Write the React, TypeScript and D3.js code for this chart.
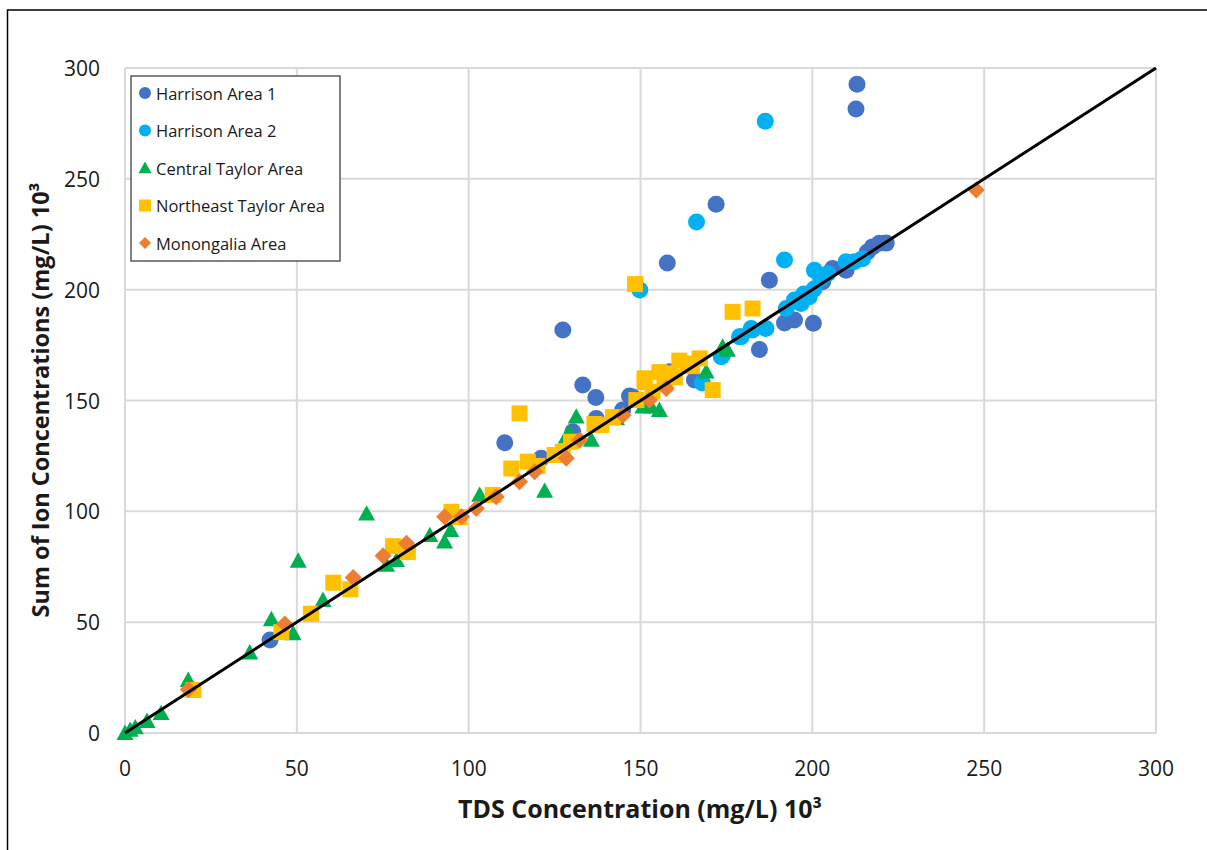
import React from "react";
import * as d3 from "d3";

const xTicks = [0, 50, 100, 150, 200, 250, 300];
const yTicks = [0, 50, 100, 150, 200, 250, 300];

const seriesNames = [
  "Harrison Area 1",
  "Harrison Area 2",
  "Central Taylor Area",
  "Northeast Taylor Area",
  "Monongalia Area",
];
const seriesColors = ["#4472C4", "#00B0F0", "#00B050", "#FFC000", "#ED7D31"];
const seriesShapes = ["circle", "circle", "triangle", "square", "diamond"];

const harrison1: [number, number][] = [
  [42.2, 42], [110.5, 130.9], [121.1, 123.9], [127.4, 181.8], [130.3, 135.9],
  [133.2, 157], [137, 151.4], [137.1, 141.9], [144.8, 145.7], [146.8, 152],
  [147.7, 151.6], [158.4, 163], [157.8, 212], [165.7, 159.2], [172, 238.5],
  [184.6, 173], [187.5, 204.3], [191.9, 185], [194.8, 186.3], [200.3, 184.8],
  [203, 203.6], [205.9, 209.6], [209.8, 208.8], [213, 292.7], [212.7, 281.5],
  [216, 217], [217.5, 219.3], [219.5, 220.9], [221.5, 221],
];
const harrison2: [number, number][] = [
  [149.8, 199.8], [166.3, 230.5], [186.3, 276], [191.9, 213.4], [168, 157.9],
  [173.5, 169.7], [173.9, 170.5], [178.8, 178.8], [179.3, 178.8], [182.2, 182.5],
  [182.6, 181.8], [186.5, 182.5], [192.4, 191.5], [194.8, 195.3], [196.7, 193.8],
  [199.1, 196.8], [200.6, 208.8], [202.5, 205], [204.5, 207.3], [209.8, 212.6],
  [212.2, 212.6], [214.6, 214], [200.5, 200.3], [197.5, 198],
];
const centralTaylor: [number, number][] = [
  [0, 0], [1.5, 1.4], [3, 2.5], [6.4, 5.4], [10.5, 9], [18.4, 23.9], [36.3, 36.3],
  [42.6, 51.3], [48.9, 45], [50.4, 77.7], [57.6, 60], [70.3, 99], [76.1, 75.8],
  [79, 78], [88.7, 89.3], [93, 86.3], [94.8, 91.5], [103.2, 107.4], [122.1, 109.2],
  [128.4, 133.7], [129.4, 135.3], [131.3, 142.7], [135.7, 132.2], [143, 141.9],
  [150.7, 147.2], [153.1, 147.2], [155.5, 145.7], [169.1, 163], [173.9, 174.3],
  [175.3, 172.8],
];
const northeastTaylor: [number, number][] = [
  [19.9, 19.4], [45.5, 45.5], [54.1, 53.8], [60.6, 67.8], [65.6, 64.8], [78, 84.3],
  [82.3, 81.6], [95, 99.8], [97.4, 97.4], [107, 107.4], [112.4, 119.3], [114.8, 144.2],
  [117.2, 122.4], [125, 125.4], [127.4, 126.9], [129.8, 131.4], [136.6, 139.4],
  [138.6, 138.9], [148.4, 202.5], [148.8, 150.2], [151.2, 160], [151.2, 158.3],
  [155.5, 162.8], [158.4, 162.2], [161.3, 168], [163.8, 166.7], [167.2, 169],
  [171, 154.7], [176.8, 190], [182.6, 191.5], [153.5, 154], [157, 157.5],
  [160, 160.5], [165, 165.5], [142, 142.5], [120, 120.5],
];
const monongalia: [number, number][] = [
  [18.4, 19.6], [46.5, 49.2], [66.4, 70.2], [75.1, 80], [81.9, 85.6], [93, 97.6],
  [97.9, 97.6], [102.2, 101.3], [108, 106.6], [114.8, 113.4], [119.2, 117.9],
  [128.4, 123.9], [132.3, 132.2], [144.9, 143.4], [152.6, 150.2], [157.5, 155.4],
  [247.7, 245],
];
const allSeries = [harrison1, harrison2, centralTaylor, northeastTaylor, monongalia];
const refLine: [number, number][] = [[0, 0], [300, 300]];

const W = 1207;
const H = 850;
const left = 125;
const right = 1156;
const top = 68;
const bottom = 733;
const FONT = "'Open Sans', 'Noto Sans', sans-serif";

function shapePath(shape: string, s: number): string {
  if (shape === "circle") {
    return `M${-s},0A${s},${s} 0 1,0 ${s},0A${s},${s} 0 1,0 ${-s},0Z`;
  }
  if (shape === "square") {
    return `M${-s},${-s}H${s}V${s}H${-s}Z`;
  }
  if (shape === "triangle") {
    const h = s * 1.8;
    return `M0,${-h * 0.55}L${s},${h * 0.45}L${-s},${h * 0.45}Z`;
  }
  return `M0,${-s}L${s},0L0,${s}L${-s},0Z`;
}
const markerSize: Record<string, number> = { circle: 8.5, square: 8, triangle: 8.5, diamond: 8.5 };
const legendSize: Record<string, number> = { circle: 6, square: 6, triangle: 6.5, diamond: 6 };

export default function App() {
  const x = d3.scaleLinear().domain([0, 300]).range([left, right]);
  const y = d3.scaleLinear().domain([0, 300]).range([bottom, top]);
  const line = d3.line<[number, number]>().x((d) => x(d[0])).y((d) => y(d[1]));

  return (
    <svg
      width={W}
      height={H}
      style={{ position: "absolute", left: 0, top: 0, background: "#fff" }}
    >
      <rect x={7.5} y={10} width={1300} height={1000} fill="#fff" stroke="#000" strokeWidth={1.5} />
      {xTicks.map((t) => (
        <line key={"gx" + t} x1={x(t)} x2={x(t)} y1={top} y2={bottom} stroke="#d9d9d9" strokeWidth={2} />
      ))}
      {yTicks.map((t) => (
        <line key={"gy" + t} x1={left} x2={right} y1={y(t)} y2={y(t)} stroke="#d9d9d9" strokeWidth={2} />
      ))}
      {xTicks.map((t) => (
        <text key={"tx" + t} x={x(t)} y={768} textAnchor="middle" dominantBaseline="central"
          fontFamily={FONT} fontSize={21} fill="#1a1a1a">{t}</text>
      ))}
      {yTicks.map((t) => (
        <text key={"ty" + t} x={100} y={y(t)} textAnchor="end" dominantBaseline="central"
          fontFamily={FONT} fontSize={21} fill="#1a1a1a">{t}</text>
      ))}
      <text x={640} y={808} textAnchor="middle" dominantBaseline="central" fontFamily={FONT}
        fontSize={25} fontWeight="bold" fill="#1a1a1a">
        TDS Concentration (mg/L) 10³
      </text>
      <text transform={`translate(40,400) rotate(-90)`} textAnchor="middle" dominantBaseline="central"
        fontFamily={FONT} fontSize={23.5} fontWeight="bold" fill="#1a1a1a">
        Sum of Ion Concentrations (mg/L) 10³
      </text>
      {allSeries.map((data, si) => (
        <g key={"s" + si} fill={seriesColors[si]}>
          {data.map((d, i) => (
            <path key={i} transform={`translate(${x(d[0])},${y(d[1])})`}
              d={shapePath(seriesShapes[si], markerSize[seriesShapes[si]])} />
          ))}
        </g>
      ))}
      <path d={line(refLine) || ""} stroke="#000" strokeWidth={3} fill="none" />
      <g>
        <rect x={131} y={76} width={209} height={185} fill="#fff" stroke="#404040" strokeWidth={1.3} />
        {seriesNames.map((n, i) => (
          <g key={n} transform={`translate(0,${93 + i * 37.5})`}>
            <path transform="translate(145,0)" fill={seriesColors[i]}
              d={shapePath(seriesShapes[i], legendSize[seriesShapes[i]])} />
            <text x={156} y={0} dominantBaseline="central" fontFamily={FONT} fontSize={16.5} fill="#1a1a1a">{n}</text>
          </g>
        ))}
      </g>
    </svg>
  );
}
